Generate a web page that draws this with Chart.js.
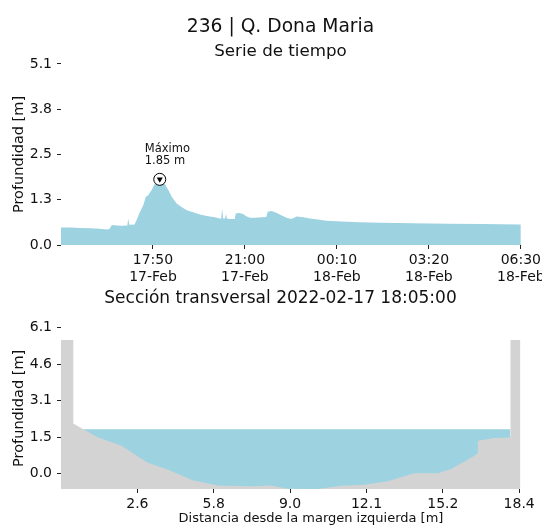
<!DOCTYPE html>
<html>
<head>
<meta charset="utf-8">
<script src="https://cdn.jsdelivr.net/npm/chart.js@4.4.0/dist/chart.umd.min.js"></script>
<style>
  body { margin: 0; background: #fff; }
  .lienzo { position: relative; width: 542px; height: 526px; overflow: hidden; }
  canvas { display: block; position: absolute; left: 0; }
  #serie { top: 0; }
  #seccion { top: 280px; }
</style>
</head>
<body>
<div class="lienzo">
<canvas id="serie" width="622" height="295"></canvas>
<canvas id="seccion" width="622" height="246"></canvas>
</div>
<script>
'use strict';

// serie de tiempo (minutos desde 17-Feb 14:40)
var minutos = [0, 20, 40, 60, 80, 95, 100, 105, 115, 125, 137, 139, 141, 152, 156, 163, 170, 175, 180, 187,
  194, 204, 214, 222, 229, 239, 249, 260, 273, 287, 301, 318, 328, 331, 333, 335,
  339, 341, 343, 355, 359, 361, 368, 376, 383, 390, 400, 415, 424, 427, 435, 445, 455, 466, 476, 487,
  500, 514, 530, 549, 580, 617, 660, 727, 800, 870, 950];
var profundidad = [0.49, 0.49, 0.48, 0.47, 0.46, 0.44, 0.45, 0.56, 0.55, 0.54, 0.55, 0.75, 0.57, 0.58, 0.70, 0.93, 1.12, 1.35, 1.40, 1.54,
  1.73, 1.82, 1.73, 1.54, 1.35, 1.17, 1.07, 0.98, 0.92, 0.86, 0.82, 0.78, 0.75, 0.75, 1.03, 0.75,
  0.75, 0.87, 0.74, 0.73, 0.73, 0.89, 0.90, 0.87, 0.81, 0.77, 0.77, 0.78, 0.79, 0.94, 0.96, 0.91, 0.84, 0.77, 0.73, 0.80,
  0.78, 0.75, 0.72, 0.68, 0.66, 0.64, 0.63, 0.61, 0.60, 0.59, 0.58];
var maximoMin = 204;
var maximoVal = 1.85;
var serieXTicks = [190, 380, 570, 760, 950];
var serieXLabels = [['17:50', '17-Feb'], ['21:00', '17-Feb'], ['00:10', '18-Feb'], ['03:20', '18-Feb'], ['06:30', '18-Feb']];
var serieYTicks = [0, 1.275, 2.55, 3.825, 5.1];
var serieYLabels = ['0.0', '1.3', '2.5', '3.8', '5.1'];

// seccion transversal
var distancia = [-0.56, -0.05, -0.05, 0.36, 0.98, 1.95, 2.99, 3.95, 4.92, 5.95, 7.4, 8.13, 8.82, 10.06, 11.03,
  11.99, 12.96, 14.06, 15.03, 15.58, 16.27, 16.69, 16.69, 17.38, 18.04, 18.04, 18.45];
var fondo = [5.59, 5.59, 2.09, 1.85, 1.51, 1.16, 0.47, 0.12, -0.29, -0.50, -0.53, -0.50, -0.64, -0.65, -0.51,
  -0.47, -0.33, 0.01, 0.01, 0.19, 0.57, 0.84, 1.37, 1.48, 1.51, 5.59, 5.59];
var nivelAgua = 1.85;
var aguaDesde = 0.36;
var aguaHasta = 18.04;
var seccionXTicks = [2.6, 5.76, 8.92, 12.08, 15.24, 18.4];
var seccionXLabels = ['2.6', '5.8', '9.0', '12.1', '15.2', '18.4'];
var seccionYTicks = [0, 1.525, 3.05, 4.575, 6.1];
var seccionYLabels = ['0.0', '1.5', '3.1', '4.6', '6.1'];

var azul = '#9dd2e1';
var gris = '#d3d3d3';
var fuente = 'DejaVu Sans';

Chart.defaults.font.family = fuente;
Chart.defaults.color = '#111';
Chart.defaults.animation = false;

// el eje llega mas alla del borde de la figura (se recorta a 542px)
var margenDer = 61;

function ejes(xTicks, xLabels, yTicks, yLabels, xMin, xMax, yMin, yMax, xH, xTitulo) {
  return {
    x: {
      type: 'linear', min: xMin, max: xMax,
      grid: { drawOnChartArea: false, tickLength: 4, color: '#222' },
      border: { display: false },
      afterBuildTicks: function(s) { s.ticks = xTicks.map(function(v) { return { value: v }; }); },
      afterFit: function(s) { s.height = xH; s.paddingLeft = 0; s.paddingRight = 0; },
      ticks: {
        font: { size: 14 }, padding: 3, maxRotation: 0, autoSkip: false,
        callback: function(v, i) { return xLabels[i]; }
      },
      title: xTitulo ? { display: true, text: xTitulo, font: { size: 13 }, padding: { top: 0, bottom: 0 } } : { display: false }
    },
    y: {
      min: yMin, max: yMax,
      grid: { drawOnChartArea: false, tickLength: 4, color: '#222' },
      border: { display: false },
      afterBuildTicks: function(s) { s.ticks = yTicks.map(function(v) { return { value: v }; }); },
      afterFit: function(s) { s.width = 61; s.paddingTop = 0; s.paddingBottom = 0; },
      ticks: {
        font: { size: 14 }, padding: 5,
        callback: function(v, i) { return yLabels[i]; }
      },
      title: { display: true, text: 'Profundidad [m]', font: { size: 14.5 }, padding: { top: 11, bottom: 0 } }
    }
  };
}

// texto del maximo
var textoMaximo = {
  id: 'textoMaximo',
  afterDatasetsDraw: function(chart) {
    var ctx = chart.ctx;
    var px = chart.scales.x.getPixelForValue(maximoMin);
    var py = chart.scales.y.getPixelForValue(maximoVal);
    ctx.save();
    ctx.fillStyle = '#111';
    ctx.font = '11.5px "' + fuente + '"';
    ctx.textAlign = 'left';
    ctx.textBaseline = 'middle';
    ctx.fillText('Máximo', px - 15, py - 30);
    ctx.fillText('1.85 m', px - 15, py - 18);
    ctx.restore();
  }
};

new Chart(document.getElementById('serie'), {
  type: 'line',
  data: {
    datasets: [
      {
        data: [{ x: maximoMin, y: maximoVal }], pointStyle: 'triangle', rotation: 180,
        pointRadius: 3.5, pointBackgroundColor: '#000', pointBorderWidth: 0, showLine: false
      },
      {
        data: [{ x: maximoMin, y: maximoVal }], pointStyle: 'circle',
        pointRadius: 6, pointBackgroundColor: '#fff', pointBorderColor: '#000', pointBorderWidth: 1, showLine: false
      },
      {
        data: minutos.map(function(m, i) { return { x: m, y: profundidad[i] }; }),
        fill: 'origin', backgroundColor: azul, borderWidth: 0, pointRadius: 0, tension: 0
      }
    ]
  },
  options: {
    responsive: false,
    layout: { autoPadding: false, padding: { left: 0, top: 0, bottom: 0, right: margenDer } },
    plugins: {
      legend: { display: false },
      tooltip: { enabled: false },
      title: { display: true, text: '236 | Q. Dona Maria', color: '#111', font: { size: 18.7, weight: 'normal' }, padding: { top: 15.8, bottom: 1 } },
      subtitle: { display: true, text: 'Serie de tiempo', color: '#111', font: { size: 16.7 }, padding: { top: 2.7, bottom: 2 } }
    },
    scales: ejes(serieXTicks, serieXLabels, serieYTicks, serieYLabels, 0, 1033, 0, 5.1, 50, null)
  },
  plugins: [textoMaximo]
});

new Chart(document.getElementById('seccion'), {
  type: 'line',
  data: {
    datasets: [
      {
        data: distancia.map(function(d, i) { return { x: d, y: fondo[i] }; }),
        fill: 'start', backgroundColor: gris, borderWidth: 0, pointRadius: 0, tension: 0
      },
      {
        data: [{ x: aguaDesde, y: nivelAgua }, { x: aguaHasta, y: nivelAgua }],
        fill: 'start', backgroundColor: azul, borderWidth: 0, pointRadius: 0
      }
    ]
  },
  options: {
    responsive: false,
    layout: { autoPadding: false, padding: { left: 0, top: 0, bottom: 0, right: margenDer } },
    plugins: {
      legend: { display: false },
      tooltip: { enabled: false },
      title: { display: true, text: 'Sección transversal 2022-02-17 18:05:00', color: '#111', font: { size: 17, weight: 'normal' }, padding: { top: 8.8, bottom: 18.5 } }
    },
    scales: ejes(seccionXTicks, seccionXLabels, seccionYTicks, seccionYLabels, -0.56, 20.13, -0.65, 6.1, 37,
      'Distancia desde la margen izquierda [m]')
  }
});
</script>
</body>
</html>
